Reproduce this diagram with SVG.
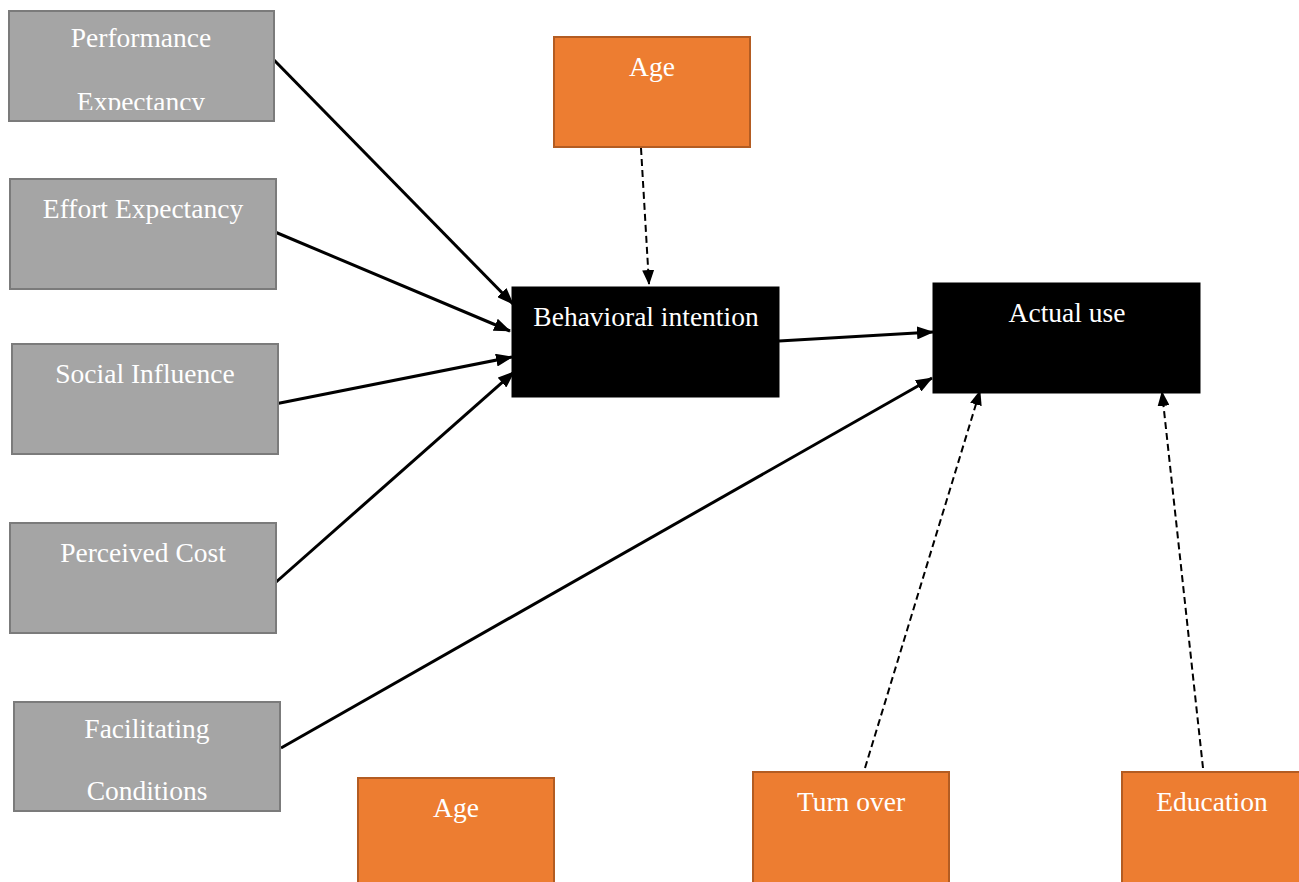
<svg xmlns="http://www.w3.org/2000/svg" width="1299" height="882" viewBox="0 0 1299 882">
<style>
.g{fill:#a5a5a5;stroke:#7b7b7b;stroke-width:2}
.o{fill:#ed7d31;stroke:#b35c22;stroke-width:2}
.k{fill:#000;stroke:#000;stroke-width:1}
text{font-family:"Liberation Serif","Times New Roman",serif;font-size:27.5px;fill:#fff;text-anchor:middle}
.s{stroke:#000;stroke-width:3;fill:none}
.d{stroke:#000;stroke-width:2;fill:none;stroke-dasharray:7,4}
</style>
<defs>
<marker id="a" markerUnits="userSpaceOnUse" markerWidth="17" markerHeight="13" refX="16" refY="6.5" orient="auto"><path d="M0,0 L17,6.5 L0,13 Z" fill="#000"/></marker>
<marker id="b" markerUnits="userSpaceOnUse" markerWidth="15" markerHeight="12" refX="14" refY="6" orient="auto"><path d="M0,0 L15,6 L0,12 Z" fill="#000"/></marker>
<clipPath id="c1"><rect x="8" y="11" width="266" height="99"/></clipPath>
</defs>
<g id="connectors">
<line class="s" x1="274" y1="60" x2="513" y2="304" marker-end="url(#a)"/>
<line class="s" x1="275" y1="232" x2="510" y2="331" marker-end="url(#a)"/>
<line class="s" x1="275" y1="404" x2="512" y2="357" marker-end="url(#a)"/>
<line class="s" x1="275" y1="583" x2="514" y2="372" marker-end="url(#a)"/>
<line class="s" x1="281" y1="748" x2="932" y2="378" marker-end="url(#a)"/>
<line class="s" x1="779" y1="341" x2="933" y2="332" marker-end="url(#a)"/>
<line class="d" x1="641" y1="148" x2="649" y2="284" marker-end="url(#b)"/>
<line class="d" x1="865" y1="768" x2="980" y2="391" marker-end="url(#b)"/>
<line class="d" x1="1203" y1="768" x2="1162" y2="392" marker-end="url(#b)"/>
</g>
<g id="pe"><rect class="g" x="9" y="11" width="265" height="110"/><g clip-path="url(#c1)"><text x="141" y="47">Performance</text><text x="141" y="111">Expectancy</text></g></g>
<g id="ee"><rect class="g" x="10" y="179" width="266" height="110"/><text x="143" y="218">Effort Expectancy</text></g>
<g id="si"><rect class="g" x="12" y="344" width="266" height="110"/><text x="145" y="383">Social Influence</text></g>
<g id="pc"><rect class="g" x="10" y="523" width="266" height="110"/><text x="143" y="562">Perceived Cost</text></g>
<g id="fc"><rect class="g" x="14" y="702" width="266" height="109"/><text x="147" y="738">Facilitating</text><text x="147" y="800">Conditions</text></g>
<g id="age1"><rect class="o" x="554" y="37" width="196" height="110"/><text x="652" y="76">Age</text></g>
<g id="bi"><rect class="k" x="512" y="287" width="267" height="110"/><text x="646" y="326">Behavioral intention</text></g>
<g id="au"><rect class="k" x="933" y="283" width="267" height="110"/><text x="1067" y="322">Actual use</text></g>
<g id="age2"><rect class="o" x="358" y="778" width="196" height="110"/><text x="456" y="817">Age</text></g>
<g id="to"><rect class="o" x="753" y="772" width="196" height="112"/><text x="851" y="811">Turn over</text></g>
<g id="ed"><rect class="o" x="1122" y="772" width="190" height="112"/><text x="1212" y="811">Education</text></g>
</svg>
